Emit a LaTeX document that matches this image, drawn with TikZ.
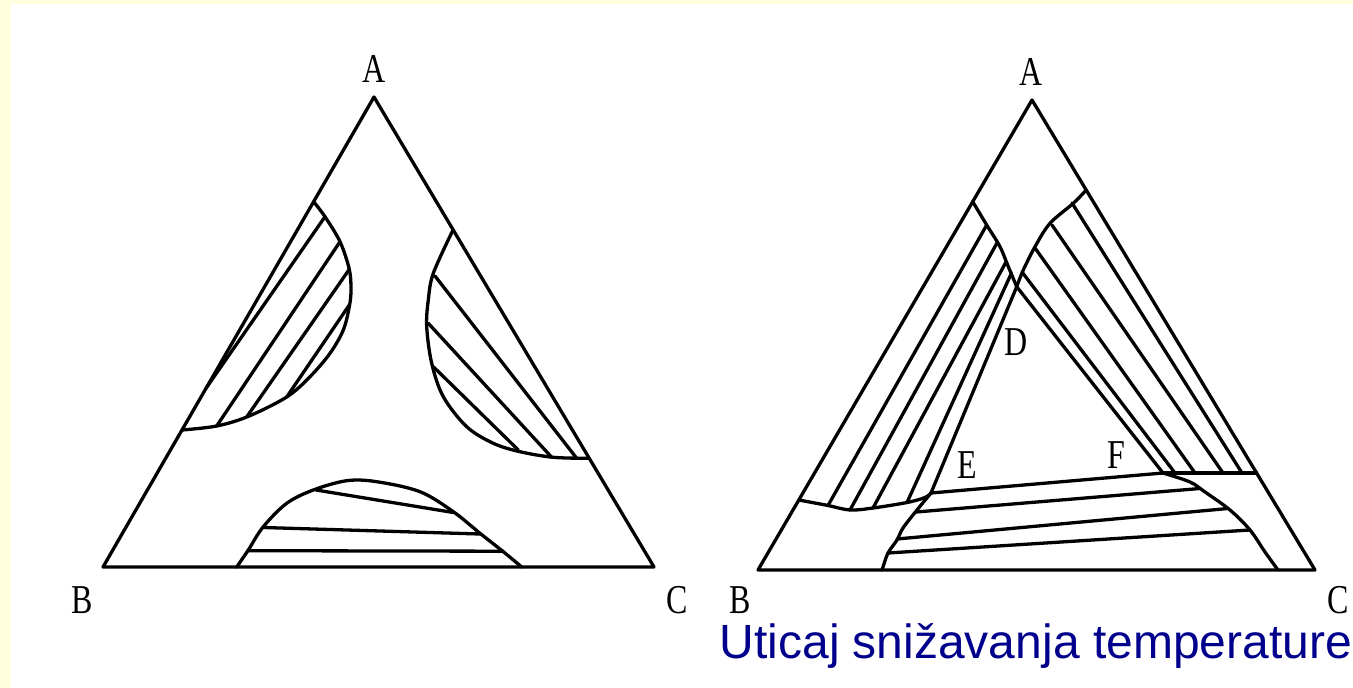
\documentclass[tikz,border=0pt]{standalone}
\usepackage{fontspec}
\setmainfont{Liberation Serif}
\newfontfamily\capfont{Liberation Sans}
\usetikzlibrary{calc}
\definecolor{slidebg}{RGB}{255,255,221}
\definecolor{capblue}{RGB}{0,0,140}
\begin{document}
\begin{tikzpicture}[x=1pt,y=-1pt,line width=3.3pt,line join=round,line cap=round,
  lbl/.style={font=\fontsize{41}{43}\selectfont,xscale=0.78,inner sep=0pt},
  curve/.style={smooth,tension=0.55}]
\useasboundingbox (0,0) rectangle (1353,688);
\fill[slidebg] (0,0) rectangle (1353,688);
\fill[white] (11,4) rectangle (1353,688);

% ---------- left diagram ----------
\coordinate (lA) at (374,97);
\coordinate (lB) at (103,567);
\coordinate (lC) at (654,567);
\draw (lA) -- (lB) -- (lC) -- cycle;
% upper-left lens
\draw plot[curve] coordinates {(313.6,201.7) (325,216.7) (340,241.7) (349.3,269.3) (351,290) (349.3,306.7) (343.3,330) (330,353.3) (310,376.7) (286.7,397) (248,416.5) (216.7,426) (182,430)};
\draw (325,216.7) -- (206.2,388);
\draw (340,241.7) -- (216.7,426);
\draw (349.3,269.3) -- (247,416.5);
\draw (349.3,305) -- (286.7,397);
% right lens
\draw plot[curve] coordinates {(453,230) (433.3,273.3) (428.3,300) (426.7,326.7) (431.7,363.3) (443.3,396.7) (466.7,426.7) (493.3,443.3) (520,451.7) (553.3,457.3) (588.5,458.3)};
\draw (435,276) -- (576.7,458.3);
\draw (428.3,323.3) -- (551.7,457.3);
\draw (433.3,366.7) -- (518.3,450);
% bottom lens
\draw plot[curve] coordinates {(236.7,567) (248.3,550) (263.3,526.7) (286.7,503.3) (313.3,490) (346.7,480.7) (376.7,481.7) (420,491.7) (453.3,511.7) (480,533.3) (503.3,551.7) (521.7,567)};
\draw (316,490) -- (453.3,512.5);
\draw (263.3,527.5) -- (480,534);
\draw (248.3,550.7) -- (503.3,551.2);

\node[lbl] (la) at (374,69) {A};
\node[lbl] (lb) at (82,600) {B};
\node[lbl] (lc) at (677,600) {C};

% ---------- right diagram ----------
\coordinate (rA) at (1032,100);
\coordinate (rB) at (758,570);
\coordinate (rC) at (1315,570);
\draw (rA) -- (rB) -- (rC) -- cycle;
\coordinate (D) at (1016.7,286.7);
\coordinate (E) at (931,493);
\coordinate (F) at (1163,473);
% A-B band
\draw plot[curve] coordinates {(972.7,201.7) (986.7,225) (1000,246.7) (1008.3,266.7) (D)};
\draw (D) -- (F);
\draw plot[curve] coordinates {(798.8,500) (828,505.5) (850,510) (873,508) (907,502.5) (925,497.5) (E)};
\draw (986.7,225) -- (828,505.5);
\draw (997.5,242) -- (850,510);
\draw (1006,262) -- (873,508);
\draw (1011.5,273) -- (907,502.5);
% A-C band
\draw plot[curve] coordinates {(1086.2,190) (1073.3,203.3) (1050,223.3) (1035,246.7) (1023.3,270) (D)};
\draw (D) -- (E);
\draw (F) -- (1256.6,473);
\draw (1022,272) -- (1175,473);
\draw (1035,248) -- (1195,473);
\draw (1052,225) -- (1223,473);
\draw (1072,203) -- (1242,473);
% B-C band
\draw (E) -- (F);
\draw plot[curve] coordinates {(F) (1190,482) (1205,492) (1230,510) (1250,530) (1265,552) (1278,570)};
\draw plot[curve] coordinates {(E) (917,510) (903,528) (897,540) (888,553) (883,567) (882,570)};
\draw (916,512) -- (1200,488.5);
\draw (897,539) -- (1228,508.5);
\draw (888,553) -- (1250,530);

\node[lbl] (ra) at (1031,72) {A};
\node[lbl] (rb) at (740,600) {B};
\node[lbl] (rc) at (1338,600) {C};
\node[lbl] (rd) at (1016,342) {D};
\node[lbl] (re) at (967,465) {E};
\node[lbl] (rf) at (1116,455) {F};

\node[anchor=base west,inner sep=0pt,text=capblue,font=\capfont\fontsize{48}{50}\selectfont] (cap) at (718,658) {Uticaj snižavanja temperature};
\end{tikzpicture}
\end{document}
